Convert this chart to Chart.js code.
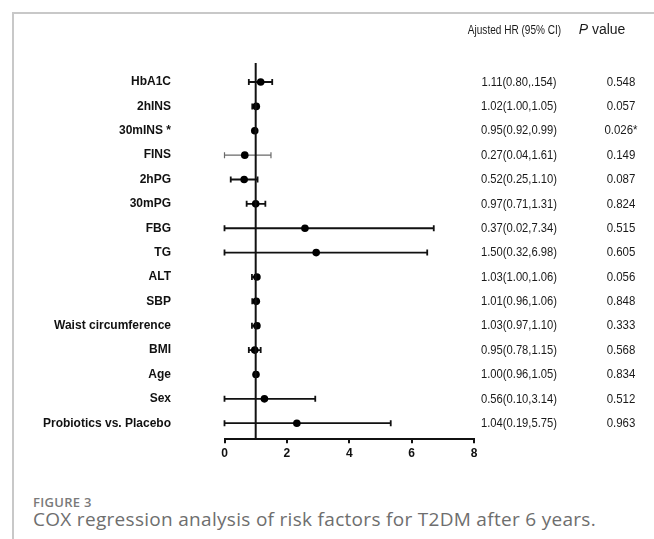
<!DOCTYPE html>
<html>
<head>
<meta charset="utf-8">
<script src="https://cdn.jsdelivr.net/npm/chart.js@4.4.1/dist/chart.umd.min.js"></script>
<style>
    body { margin: 0; background: #fff; }
    #pagina { position: relative; width: 654px; height: 539px; overflow: hidden; }
    #moldura { position: absolute; left: 12px; top: 12px; width: 660px; height: 560px;
               border-left: 2px solid #c8c8c8; border-top: 2px solid #c8c8c8; }
    #caixa { position: absolute; left: 0; top: 0; width: 654px; height: 470px; }
    #figura { position: absolute; left: 33px; top: 493px; font: 600 13px "Open Sans", sans-serif;
              color: #7a7a7a; letter-spacing: 0.3px; }
    #legenda { position: absolute; left: 33px; top: 506px; font: 19px "Open Sans", sans-serif;
               color: #6e6e6e; white-space: nowrap; letter-spacing: 0.3px; }
</style>
</head>
<body>
<div id="pagina">
    <div id="moldura"></div>
    <div id="caixa"><canvas id="grafico"></canvas></div>
    <div id="figura">FIGURE 3</div>
    <div id="legenda">COX regression analysis of risk factors for T2DM after 6 years.</div>
</div>
<script>
// dados
const fatores = ['HbA1C', '2hINS', '30mINS *', 'FINS', '2hPG', '30mPG', 'FBG', 'TG', 'ALT', 'SBP',
    'Waist circumference', 'BMI', 'Age', 'Sex', 'Probiotics vs. Placebo'];
const hrPonto = [1.16, 1.02, 0.97, 0.65, 0.63, 1.00, 2.58, 2.94, 1.04, 1.02, 1.04, 0.97, 1.01, 1.28, 2.32];
const icInferior = [0.78, 0.89, 0.95, 0.00, 0.20, 0.71, 0.00, 0.00, 0.88, 0.89, 0.88, 0.78, 0.96, 0.00, 0.00];
const icSuperior = [1.53, 1.05, 0.99, 1.49, 1.06, 1.31, 6.71, 6.50, 1.06, 1.06, 1.10, 1.16, 1.05, 2.91, 5.33];
const textoHR = ['1.11(0.80,.154)', '1.02(1.00,1.05)', '0.95(0.92,0.99)', '0.27(0.04,1.61)', '0.52(0.25,1.10)',
    '0.97(0.71,1.31)', '0.37(0.02,7.34)', '1.50(0.32,6.98)', '1.03(1.00,1.06)', '1.01(0.96,1.06)',
    '1.03(0.97,1.10)', '0.95(0.78,1.15)', '1.00(0.96,1.05)', '0.56(0.10,3.14)', '1.04(0.19,5.75)'];
const textoP = ['0.548', '0.057', '0.026*', '0.149', '0.087', '0.824', '0.515', '0.605', '0.056', '0.848',
    '0.333', '0.568', '0.834', '0.512', '0.963'];
const ticksX = [0, 2, 4, 6, 8];
const linhaReferencia = 1;
const linhaCinza = [3]; // FINS aparece em cinza

const yMin = -0.78;
const yMax = 14.66;
const fonteTabela = '"Liberation Sans", Arial, sans-serif';

// texto estreito: escala horizontal em volta do centro
function textoEstreito(ctx, texto, xc, yc, fator) {
    ctx.save();
    ctx.translate(xc, yc);
    ctx.scale(fator, 1);
    ctx.textAlign = 'center';
    ctx.fillText(texto, 0, 0);
    ctx.restore();
}

const barrasErro = {
    id: 'barrasErro',
    beforeDatasetsDraw(chart) {
        const ctx = chart.ctx;
        const x = chart.scales.x;
        const y = chart.scales.y;
        ctx.save();
        fatores.forEach((f, i) => {
            const yp = y.getPixelForValue(i);
            const x1 = x.getPixelForValue(icInferior[i]);
            const x2 = x.getPixelForValue(icSuperior[i]);
            const cinza = linhaCinza.includes(i);
            ctx.strokeStyle = cinza ? '#6a6a6a' : '#111';
            ctx.lineWidth = cinza ? 1.2 : 1.8;
            ctx.beginPath();
            ctx.moveTo(x1, yp);
            ctx.lineTo(x2, yp);
            ctx.moveTo(x1, yp - 3);
            ctx.lineTo(x1, yp + 3);
            ctx.moveTo(x2, yp - 3);
            ctx.lineTo(x2, yp + 3);
            ctx.stroke();
        });
        ctx.restore();
    },
    afterDraw(chart) {
        const ctx = chart.ctx;
        const y = chart.scales.y;
        ctx.save();
        ctx.fillStyle = '#1a1a1a';
        ctx.textBaseline = 'middle';
        ctx.font = '13.5px ' + fonteTabela;
        textoEstreito(ctx, 'Ajusted HR (95% CI)', 514.5, 30, 0.745);
        // cabeçalho P value, P em itálico
        ctx.font = 'italic 14px ' + fonteTabela;
        const wP = ctx.measureText('P').width;
        ctx.font = '14px ' + fonteTabela;
        const wV = ctx.measureText(' value').width;
        const inicio = 602 - (wP + wV) / 2;
        ctx.textAlign = 'left';
        ctx.font = 'italic 14px ' + fonteTabela;
        ctx.fillText('P', inicio, 30);
        ctx.font = '14px ' + fonteTabela;
        ctx.fillText(' value', inicio + wP, 30);
        ctx.font = '13.5px ' + fonteTabela;
        fatores.forEach((f, i) => {
            const yp = y.getPixelForValue(i);
            textoEstreito(ctx, textoHR[i], 519, yp, 0.83);
            textoEstreito(ctx, textoP[i], 621, yp, 0.85);
        });
        ctx.restore();
    }
};

const ctx = document.getElementById('grafico').getContext('2d');
const grafico = new Chart(ctx, {
    type: 'scatter',
    data: {
        datasets: [{
            type: 'line',
            data: [{ x: linhaReferencia, y: yMin }, { x: linhaReferencia, y: yMax }],
            borderColor: '#111',
            borderWidth: 2,
            pointRadius: 0
        }, {
            data: fatores.map((f, i) => ({ x: hrPonto[i], y: i })),
            backgroundColor: '#000',
            borderColor: '#000',
            pointRadius: 3.8,
            pointBorderWidth: 0
        }]
    },
    options: {
        responsive: true,
        maintainAspectRatio: false,
        animation: false,
        layout: { padding: { left: 0, right: 180, top: 63, bottom: 0 } },
        plugins: { legend: { display: false }, tooltip: { enabled: false } },
        scales: {
            x: {
                type: 'linear',
                min: 0,
                max: 8,
                afterBuildTicks: (axis) => { axis.ticks = ticksX.map(v => ({ value: v })); },
                afterFit: (axis) => { axis.height = 30.7; axis.paddingLeft = 0; axis.paddingRight = 0; },
                border: { display: true, color: '#111', width: 2 },
                grid: { drawOnChartArea: false, drawTicks: true, tickLength: 4, color: '#111', lineWidth: 2 },
                ticks: { color: '#111', padding: 3, font: { family: fonteTabela, size: 12, weight: 'bold' } }
            },
            y: {
                type: 'linear',
                reverse: true,
                min: yMin,
                max: yMax,
                afterBuildTicks: (axis) => { axis.ticks = fatores.map((f, i) => ({ value: i })); },
                afterFit: (axis) => { axis.width = 224.5; axis.paddingTop = 0; axis.paddingBottom = 0; },
                border: { display: false },
                grid: { display: false, drawTicks: false, tickLength: 0 },
                ticks: {
                    color: '#111',
                    padding: 53.5,
                    callback: (v) => fatores[v],
                    font: { family: fonteTabela, size: 12, weight: 'bold' }
                }
            }
        }
    },
    plugins: [barrasErro]
});
</script>
</body>
</html>
